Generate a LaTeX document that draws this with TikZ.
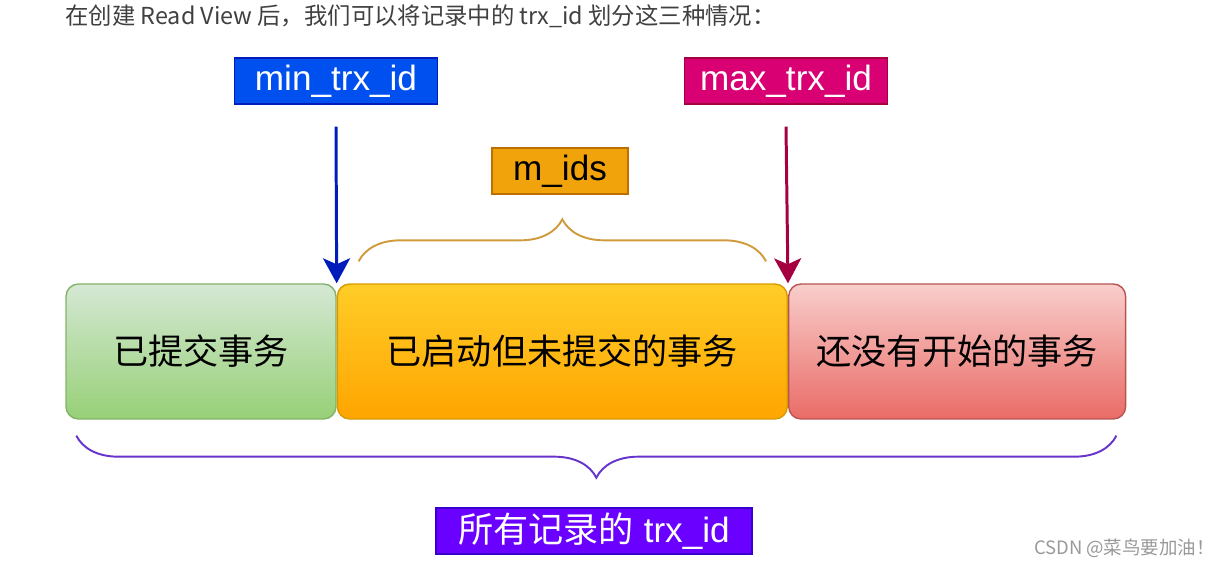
\documentclass[tikz,border=0pt]{standalone}
\usepackage{fontspec}
\setmainfont{Liberation Sans}
\newfontfamily\cjk{Noto Sans CJK SC}
\usetikzlibrary{arrows.meta, positioning, decorations.pathreplacing}
\definecolor{greentop}{HTML}{D5E8D4}
\definecolor{greenbot}{HTML}{97D077}
\definecolor{greenline}{HTML}{82B366}
\definecolor{oktop}{HTML}{FFCD28}
\definecolor{okbot}{HTML}{FFA500}
\definecolor{okline}{HTML}{D79B00}
\definecolor{redtop}{HTML}{F8CECC}
\definecolor{redbot}{HTML}{EA6B66}
\definecolor{redline}{HTML}{B85450}
\definecolor{bluefill}{HTML}{0050EF}
\definecolor{blueline}{HTML}{001DBC}
\definecolor{pinkfill}{HTML}{D80073}
\definecolor{pinkline}{HTML}{A50040}
\definecolor{amberfill}{HTML}{F0A30A}
\definecolor{amberline}{HTML}{BD7000}
\definecolor{violetfill}{HTML}{6A00FF}
\definecolor{violetline}{HTML}{3700CC}
\definecolor{bracebrown}{HTML}{CF9B3C}
\definecolor{bracepurple}{HTML}{6633CC}
\definecolor{bodytext}{HTML}{404040}

\begin{document}
\begin{tikzpicture}[
  x=0.02cm, y=-0.02cm,
  node distance=0pt,
  box/.style={rectangle, rounded corners=7pt, draw=#1line, top color=#1top, bottom color=#1bot,
    line width=0.8pt, minimum height=2.7cm, inner sep=0pt, font=\cjk\fontsize{20}{24}\selectfont},
  tag/.style={rectangle, draw=#1line, fill=#1fill, line width=0.8pt,
    minimum height=0.92cm, inner sep=0pt, font=\fontsize{20}{24}\selectfont},
  arrow/.style={-{Stealth[length=0.5cm, width=0.54cm, inset=0.12cm]}, line width=1.7pt, #1},
  brace/.style={decorate, decoration={brace, amplitude=0.84cm, #1}, line width=1.1pt}
]
\useasboundingbox (0,0) rectangle (1230,567);

% heading line
\node[anchor=west, inner sep=0pt, text=bodytext, font=\cjk\fontsize{13.3}{16}\selectfont] (head) at (65,16)
  {在创建 Read View 后，我们可以将记录中的 trx\_id 划分这三种情况：};

% the three ranges
\node[box=green, minimum width=5.4cm] (done) at (201,351.5) {已提交事务};
\node[box=ok, minimum width=9cm, right=of done] (active) {已启动但未提交的事务};
\node[box=red, minimum width=6.74cm, right=of active] (future) {还没有开始的事务};

% labels
\node[tag=blue, minimum width=4.06cm, text=white] (minid) at (336,81) {min\_trx\_id};
\node[tag=pink, minimum width=4.06cm, text=white] (maxid) at (786,81) {max\_trx\_id};
\node[tag=amber, minimum width=2.72cm, text=black] (mids) at (560,171) {m\_ids};
\node[tag=violet, minimum width=6.32cm, text=white] (all) at (594,531) {{\cjk 所有记录的} trx\_id};

\draw[arrow=blueline] ([yshift=-0.44cm]minid.south) -- (done.north east);
\draw[arrow=pinkline] ([yshift=-0.44cm]maxid.south) -- (active.north east);

\draw[brace={}, bracebrown] ([xshift=0.44cm, yshift=0.44cm]active.north west)
  -- ([xshift=-0.44cm, yshift=0.44cm]active.north east);
\draw[brace=mirror, bracepurple] ([xshift=0.22cm, yshift=-0.32cm]done.south west)
  -- ([xshift=-0.2cm, yshift=-0.32cm]future.south east);

% watermark
\node[anchor=east, inner sep=0pt, text=gray!80, font=\cjk\fontsize{10.5}{12}\selectfont] (mark) at (1215,548)
  {CSDN @菜鸟要加油！};
\end{tikzpicture}
\end{document}
